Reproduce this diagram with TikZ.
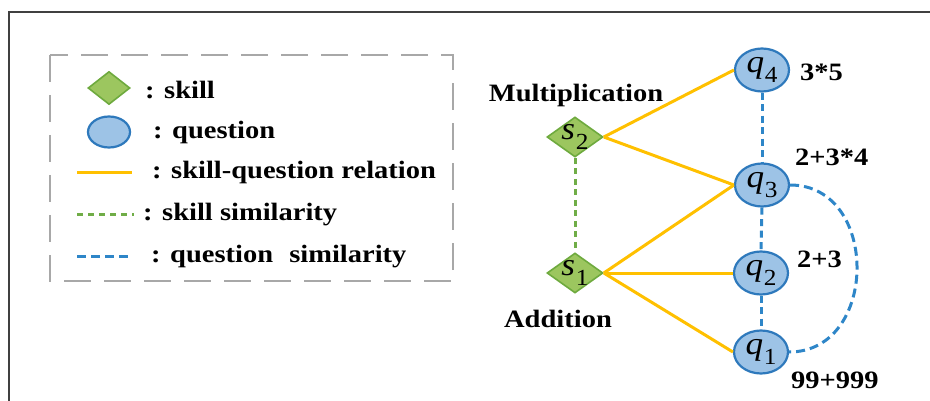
\documentclass[tikz,border=0pt]{standalone}
\usepackage{fontspec}
\setmainfont{Liberation Serif}[FakeStretch=1.14]
\newfontfamily\symfont{Liberation Serif}
\usetikzlibrary{shapes.geometric}

\definecolor{frameGray}{HTML}{404040}
\definecolor{boxGray}{HTML}{A8A8A8}
\definecolor{skillFill}{HTML}{9CC65F}
\definecolor{skillEdge}{HTML}{6EAA3E}
\definecolor{qFill}{HTML}{9DC3E6}
\definecolor{qEdge}{HTML}{2E79BC}
\definecolor{relYellow}{HTML}{FFC000}
\definecolor{simBlue}{HTML}{2E86C8}
\definecolor{simGreen}{HTML}{70AD47}

% italic letter with an upright subscript digit
\newcommand{\sublabel}[2]{\textit{#1}\kern0.02em\raisebox{-0.3em}{\fontsize{23}{23}\selectfont #2}}

\begin{document}
\begin{tikzpicture}[x=1pt,y=-1pt,
  lbl/.style={font=\fontsize{25}{28}\selectfont\bfseries, inner sep=0pt},
  mathlbl/.style={font=\symfont\fontsize{32}{32}\selectfont, xscale=1.1, inner sep=0pt},
  skillnode/.style={diamond, draw=skillEdge, fill=skillFill, line width=1.6pt,
    minimum width=56pt, minimum height=40pt, inner sep=0pt},
  qnode/.style={ellipse, draw=qEdge, fill=qFill, line width=2.2pt,
    minimum width=54pt, minimum height=43pt, inner sep=0pt},
  relline/.style={draw=relYellow, line width=3pt},
  skillsim/.style={draw=simGreen, line width=3pt, dash pattern=on 6pt off 4.5pt},
  qsim/.style={draw=simBlue, line width=3pt, dash pattern=on 7pt off 4.5pt},
  frameline/.style={draw=frameGray, line width=1.8pt},
  legendbox/.style={draw=boxGray, line width=1.8pt, dash pattern=on 27pt off 13pt}
]
\useasboundingbox (0,0) rectangle (930,401);

% outer frame (open to the right and bottom)
\coordinate (fr1) at (935,12);
\coordinate (fr2) at (9,12);
\coordinate (fr3) at (9,405);
\draw[frameline] (fr1) -- (fr2) -- (fr3);

% ---------- legend ----------
\draw[legendbox] (50,55) rectangle (453,281);

\node[skillnode, minimum width=42pt, minimum height=33pt] (lgskill) at (109,88) {};
\node[lbl, anchor=base west] (tskill) at (145,99) {: skill};

\node[qnode, minimum width=42pt, minimum height=31pt] (lgq) at (109,132) {};
\node[lbl, anchor=base west] (tq) at (153,139) {: question};

\coordinate (lr1) at (77,173);
\coordinate (lr2) at (132,173);
\draw[relline] (lr1) -- (lr2);
\node[lbl, anchor=base west] (trel) at (152,179) {: skill-question relation};

\coordinate (ls1) at (77,215);
\coordinate (ls2) at (134,215);
\draw[skillsim, dash pattern=on 6pt off 5pt] (ls1) -- (ls2);
\node[lbl, anchor=base west] (tssim) at (143,221) {: skill similarity};

\coordinate (lq1) at (77,256);
\coordinate (lq2) at (132,256);
\draw[qsim, dash pattern=on 9pt off 5pt] (lq1) -- (lq2);
\node[lbl, anchor=base west] (tqsim) at (151,262) {: question\hspace{9pt} similarity};

% ---------- graph ----------
\node[skillnode, label={[mathlbl]center:\sublabel{s}{2}}] (s2) at (575,137) {};
\node[skillnode, label={[mathlbl]center:\sublabel{s}{1}}] (s1) at (575,273) {};

\node[qnode, label={[mathlbl]center:\sublabel{q}{4}}] (q4) at (762,70)  {};
\node[qnode, label={[mathlbl]center:\sublabel{q}{3}}] (q3) at (762,185) {};
\node[qnode, label={[mathlbl]center:\sublabel{q}{2}}] (q2) at (761,273) {};
\node[qnode, label={[mathlbl]center:\sublabel{q}{1}}] (q1) at (761,352) {};

\node[lbl, anchor=base] (tmul) at (576,102) {Multiplication};
\node[lbl, anchor=base] (tadd) at (558,327) {Addition};

\node[lbl, anchor=base west] (e4) at (800,81)  {3*5};
\node[lbl, anchor=base west] (e3) at (795,166) {2+3*4};
\node[lbl, anchor=base west] (e2) at (797,268) {2+3};
\node[lbl, anchor=base west] (e1) at (791,388) {99+999};

% skill-question relations
\draw[relline] (s2.east) -- (q4.west);
\draw[relline] (s2.east) -- (q3.west);
\draw[relline] (s1.east) -- (q3.west);
\draw[relline] (s1.east) -- (q2.west);
\draw[relline] (s1.east) -- (q1.west);

% similarities
\draw[skillsim] (s2.south) -- (s1.north);
\draw[qsim] (q4.south) -- (q3.north);
\draw[qsim] (q3.south) -- (q2.north);
\draw[qsim] (q2.south) -- (q1.north);
\draw[qsim, dash pattern=on 9pt off 5pt] (q3.east) .. controls (880,185) and (879,352) .. (q1.east);
\end{tikzpicture}
\end{document}
